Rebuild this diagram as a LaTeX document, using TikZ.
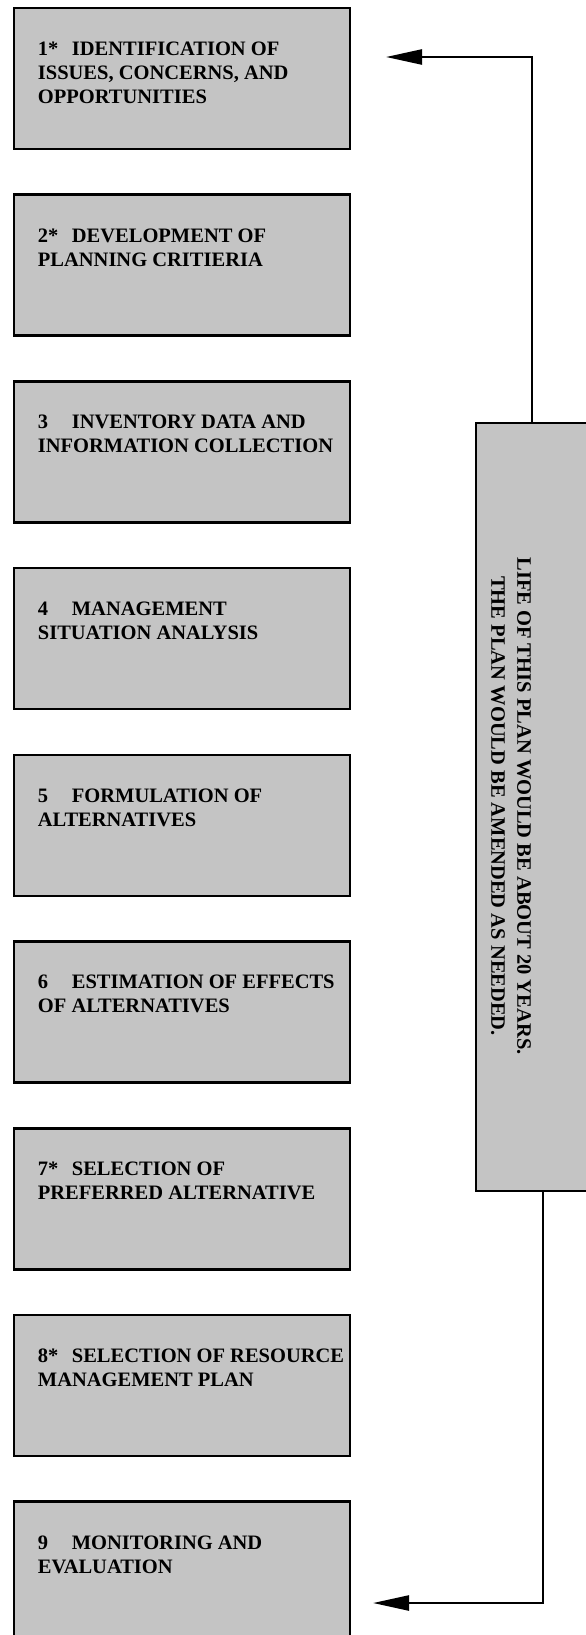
\documentclass[tikz,border=0pt]{standalone}
\usepackage{fontspec}
\setmainfont{Liberation Serif}
\usetikzlibrary{arrows.meta}
\definecolor{screen}{gray}{0.77}
\def\stepnum#1{\makebox[34pt][l]{#1}}

\begin{document}
\begin{tikzpicture}[x=1pt,y=-1pt,
    stepbox/.style={draw, line width=2.6pt, fill=screen, minimum width=336pt, minimum height=141pt, inner sep=0pt},
    steptext/.style={anchor=north west, align=left, inner sep=0pt, font=\fontsize{20.5}{24}\selectfont\bfseries},
    conn/.style={line width=2.4pt, -{Triangle[length=36pt,width=15pt]}}]
    \clip (0,0) rectangle (586,1635);
    \fill[white] (0,0) rectangle (586,1635);
    % planning steps
    \node[stepbox] (b1) at (182,78.5) {};
    \node[stepbox] (b2) at (182,265.2) {};
    \node[stepbox] (b3) at (182,451.9) {};
    \node[stepbox] (b4) at (182,638.6) {};
    \node[stepbox] (b5) at (182,825.3) {};
    \node[stepbox] (b6) at (182,1012) {};
    \node[stepbox] (b7) at (182,1198.7) {};
    \node[stepbox] (b8) at (182,1385.4) {};
    \node[stepbox] (b9) at (182,1572.1) {};
    \node[steptext] (t1) at ([shift={(25,35)}]b1.north west) {\stepnum{1*}IDENTIFICATION OF\\ISSUES, CONCERNS, AND\\OPPORTUNITIES};
    \node[steptext] (t2) at ([shift={(25,35)}]b2.north west) {\stepnum{2*}DEVELOPMENT OF\\PLANNING CRITIERIA};
    \node[steptext] (t3) at ([shift={(25,35)}]b3.north west) {\stepnum{3}INVENTORY DATA AND\\INFORMATION COLLECTION};
    \node[steptext] (t4) at ([shift={(25,35)}]b4.north west) {\stepnum{4}MANAGEMENT\\SITUATION ANALYSIS};
    \node[steptext] (t5) at ([shift={(25,35)}]b5.north west) {\stepnum{5}FORMULATION OF\\ALTERNATIVES};
    \node[steptext] (t6) at ([shift={(25,35)}]b6.north west) {\stepnum{6}ESTIMATION OF EFFECTS\\OF ALTERNATIVES};
    \node[steptext] (t7) at ([shift={(25,35)}]b7.north west) {\stepnum{7*}SELECTION OF\\PREFERRED ALTERNATIVE};
    \node[steptext] (t8) at ([shift={(25,35)}]b8.north west) {\stepnum{8*}SELECTION OF RESOURCE\\MANAGEMENT PLAN};
    \node[steptext] (t9) at ([shift={(25,35)}]b9.north west) {\stepnum{9}MONITORING AND\\EVALUATION};
    % plan life box, runs off the right edge
    \node[stepbox, minimum width=150pt, minimum height=768pt] (life) at (551,807) {};
    \node[rotate=-90, align=center, inner sep=0pt, font=\fontsize{20.5}{26}\selectfont\bfseries] (lifetext) at (511,806)
        {LIFE OF THIS PLAN WOULD BE ABOUT 20 YEARS.\\THE PLAN WOULD BE AMENDED AS NEEDED.};
    % feedback connectors
    \coordinate (up) at (532,57);
    \coordinate (tip1) at (386,57);
    \coordinate (down) at (543,1603);
    \coordinate (tip9) at (373,1603);
    \draw[conn] (life.north -| up) -- (up) -- (tip1);
    \draw[conn] (life.south -| down) -- (down) -- (tip9);
\end{tikzpicture}
\end{document}
